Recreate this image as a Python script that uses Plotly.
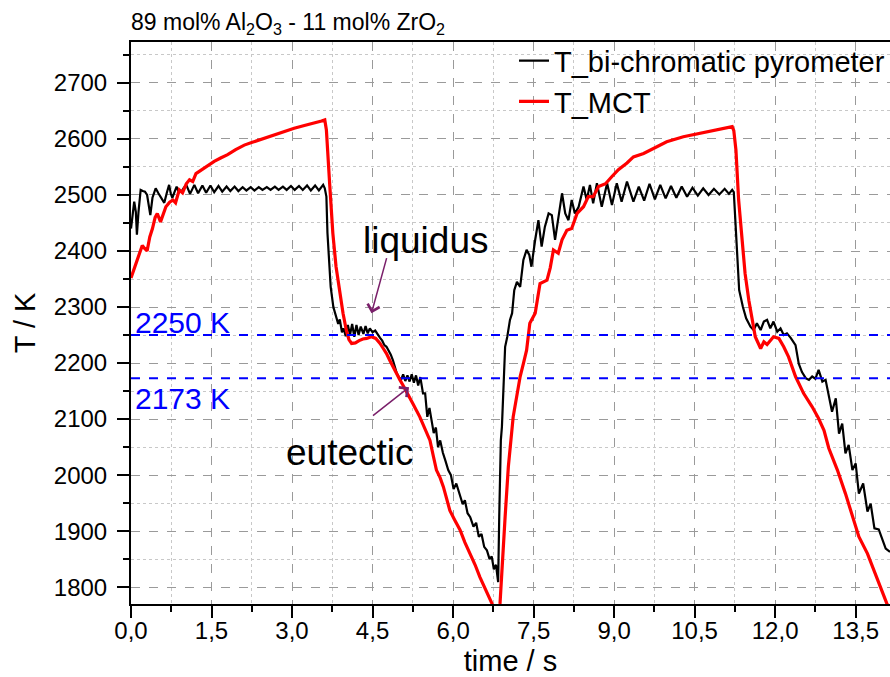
import plotly.graph_objects as go

# --- data ---
t_pyro = [0.00, 0.03, 0.06, 0.09, 0.11, 0.14, 0.18, 0.22, 0.26, 0.30, 0.33, 0.36, 0.40, 0.46, 0.51,
          0.56, 0.62, 0.67, 0.71, 0.74, 0.77, 0.81, 0.85, 0.89, 0.94, 0.98,
          1.03, 1.10, 1.18, 1.25, 1.33, 1.40, 1.48, 1.55, 1.63, 1.70, 1.78, 1.85, 1.93, 2.00,
          2.08, 2.15, 2.23, 2.30, 2.38, 2.45, 2.53, 2.60, 2.68, 2.75, 2.83, 2.90, 2.98, 3.05,
          3.13, 3.20, 3.28, 3.35, 3.43, 3.50, 3.58, 3.61,
          3.64, 3.66, 3.69, 3.72, 3.77, 3.82, 3.86, 3.89, 3.93, 3.96, 4.00, 4.04, 4.08, 4.12,
          4.16, 4.20, 4.24, 4.28, 4.33, 4.37, 4.41, 4.45, 4.50, 4.55, 4.60, 4.64, 4.68, 4.72,
          4.76, 4.80, 4.84, 4.88, 4.92, 4.95, 4.99, 5.03, 5.07, 5.11, 5.15, 5.19, 5.23, 5.27,
          5.31, 5.35, 5.39, 5.44, 5.48, 5.52, 5.56, 5.60, 5.64, 5.68, 5.72, 5.76, 5.81, 5.86,
          5.91, 5.96, 6.01, 6.06, 6.13, 6.18, 6.22, 6.27, 6.32, 6.38, 6.43, 6.48, 6.53, 6.58,
          6.63, 6.68, 6.72, 6.76, 6.80, 6.84,
          6.86, 6.89, 6.91, 6.95, 6.97, 7.01, 7.06, 7.10, 7.14, 7.19, 7.25, 7.31, 7.37, 7.42,
          7.46, 7.53, 7.59, 7.65, 7.71, 7.78, 7.84, 7.90, 7.96, 8.03, 8.09, 8.15, 8.21, 8.27,
          8.34, 8.43, 8.49, 8.55, 8.61, 8.68, 8.77, 8.87, 8.96, 9.05, 9.14, 9.24, 9.36, 9.46,
          9.56, 9.66, 9.76, 9.86, 9.96, 10.06, 10.16, 10.26, 10.36, 10.46, 10.56, 10.66, 10.76,
          10.86, 10.96, 11.06, 11.14, 11.20,
          11.23, 11.25, 11.27, 11.30, 11.33, 11.40, 11.46, 11.54, 11.60, 11.66, 11.73, 11.79,
          11.85, 11.91, 11.97, 12.04, 12.10, 12.16, 12.22, 12.29, 12.38, 12.44, 12.50, 12.57,
          12.63, 12.69, 12.75, 12.81, 12.88, 12.94, 13.00, 13.06, 13.13, 13.19, 13.25, 13.31,
          13.37, 13.44, 13.50, 13.56, 13.64, 13.72, 13.78, 13.85, 13.93, 14.00, 14.06, 14.14]
T_pyro = [2440, 2461, 2488, 2470, 2429, 2470, 2509, 2507, 2506, 2500, 2480, 2464, 2495, 2512, 2503,
          2495, 2486, 2505, 2518, 2503, 2495, 2505, 2515, 2505, 2506, 2512,
          2518, 2502, 2518, 2503, 2517, 2504, 2517, 2505, 2516, 2506, 2515, 2507, 2515, 2507,
          2514, 2508, 2514, 2508, 2514, 2509, 2514, 2509, 2515, 2509, 2515, 2509, 2516, 2509,
          2516, 2509, 2517, 2508, 2517, 2508, 2518, 2512,
          2497, 2432, 2372, 2336, 2300, 2283, 2270, 2278, 2255, 2262, 2248, 2268, 2250, 2270,
          2247, 2268, 2250, 2265, 2252, 2266, 2253, 2262, 2255, 2258, 2250, 2245, 2240, 2232,
          2229, 2222, 2215, 2205, 2190, 2182, 2175, 2170, 2180, 2168, 2178, 2167, 2180, 2165,
          2178, 2160, 2175, 2146, 2146, 2104, 2120, 2095, 2075, 2085, 2050, 2062, 2040, 2025,
          2009, 2000, 1975, 1985, 1961, 1948, 1955, 1932, 1925, 1908, 1915, 1890, 1895, 1872,
          1866, 1850, 1855, 1832, 1840, 1809,
          1926, 2062, 2086, 2164, 2229, 2247, 2277, 2289, 2330, 2345, 2336, 2384, 2402, 2393,
          2372, 2420, 2455, 2408, 2443, 2467, 2464, 2420, 2461, 2503, 2467, 2455, 2491, 2467,
          2479, 2515, 2491, 2518, 2485, 2521, 2479, 2521, 2482, 2521, 2488, 2524, 2488, 2515,
          2490, 2520, 2492, 2518, 2494, 2516, 2495, 2515, 2497, 2513, 2499, 2512, 2500,
          2511, 2501, 2511, 2502, 2509,
          2505, 2470, 2420, 2361, 2330, 2300, 2280, 2265, 2259, 2271, 2259, 2274,
          2277, 2262, 2274, 2256, 2262, 2250, 2253, 2245, 2232, 2199, 2184, 2173,
          2170, 2176, 2172, 2188, 2167, 2170, 2140, 2113, 2137, 2074, 2092, 2039,
          2054, 2009, 2021, 1967, 1985, 1935, 1949, 1905, 1903, 1884, 1869, 1863]

t_mct = [0.00, 0.03, 0.08, 0.12, 0.17, 0.21, 0.25, 0.30, 0.35, 0.40, 0.45, 0.49, 0.55, 0.60, 0.65,
         0.72, 0.78, 0.83, 0.90, 0.96, 1.03, 1.09, 1.15, 1.21, 1.27, 1.35, 1.45, 1.55, 1.67,
         1.80, 1.95, 2.11, 2.26, 2.42, 2.58, 2.73, 2.89, 3.04, 3.23, 3.42, 3.55, 3.61,
         3.64, 3.70, 3.76, 3.82, 3.89, 3.95, 4.01, 4.06, 4.11, 4.18, 4.25, 4.32, 4.39, 4.48,
         4.56, 4.64, 4.70, 4.76, 4.82, 4.88, 4.95, 5.01, 5.07, 5.13, 5.25, 5.38, 5.48, 5.57,
         5.63, 5.69, 5.76, 5.82, 5.88, 5.94, 6.03, 6.13, 6.22, 6.32, 6.41, 6.50, 6.60, 6.69,
         6.74, 6.80, 6.86, 6.875, 6.97, 7.03, 7.12, 7.25, 7.31, 7.37, 7.43, 7.53, 7.62, 7.75,
         7.81, 7.87, 7.96, 8.03, 8.12, 8.21, 8.31, 8.43, 8.52, 8.61, 8.71, 8.84, 8.96, 9.08,
         9.24, 9.36, 9.55, 9.74, 9.98, 10.29, 10.61, 10.92, 11.20, 11.23,
         11.27, 11.32, 11.38, 11.44, 11.51, 11.57, 11.63, 11.73, 11.79, 11.85, 11.97, 12.07,
         12.16, 12.25, 12.38, 12.53, 12.69, 12.81, 12.91, 13.00, 13.16, 13.31, 13.47, 13.56,
         13.72, 13.84, 13.96, 14.08, 14.14]
T_mct = [2352, 2360, 2375, 2384, 2400, 2410, 2405, 2400, 2425, 2440, 2460, 2467, 2452, 2465, 2479,
         2487, 2491, 2486, 2509, 2504, 2520, 2527, 2524, 2538, 2542, 2546, 2553, 2560, 2566,
         2572, 2581, 2589, 2594, 2599, 2605, 2610, 2615, 2619, 2624, 2628, 2632, 2634,
         2616, 2521, 2432, 2372, 2324, 2289, 2259, 2242, 2235, 2236, 2240, 2243, 2244, 2247,
         2244, 2235, 2226, 2217, 2205, 2193, 2181, 2170, 2160, 2150, 2128, 2104, 2082, 2062,
         2035, 2009, 1995, 1979, 1958, 1937, 1920, 1902, 1880, 1860, 1840, 1818, 1797, 1777,
         1765, 1755, 1760, 1771, 1926, 2015, 2104, 2176, 2199, 2223, 2271, 2289, 2342, 2348,
         2370, 2402, 2396, 2420, 2437, 2440, 2467, 2479, 2497, 2497, 2515, 2520, 2533, 2545,
         2557, 2568, 2574, 2583, 2595, 2604, 2610, 2616, 2622, 2615,
         2580, 2491, 2420, 2360, 2312, 2277, 2247, 2226, 2238, 2233, 2247, 2244,
         2229, 2211, 2176, 2146, 2122, 2101, 2080, 2048, 2009, 1967, 1920, 1890,
         1860, 1830, 1801, 1771, 1760]

ref_levels = [2250, 2173]
ref_labels = ["2250 K", "2173 K"]

FONT = "Liberation Sans, Arial, sans-serif"
PURPLE = "#7a1f6a"

fig = go.Figure()
fig.add_trace(go.Scatter(x=t_pyro, y=T_pyro, mode="lines", name="T_bi-chromatic pyrometer",
                         line=dict(color="black", width=2.2)))
fig.add_trace(go.Scatter(x=t_mct, y=T_mct, mode="lines", name="T_MCT",
                         line=dict(color="#ff0000", width=3.2)))

for lvl in ref_levels:
    fig.add_hline(y=lvl, line=dict(color="#0000ff", width=2, dash="dash"))

# level labels
fig.add_annotation(x=0.04, y=2272, text=ref_labels[0], showarrow=False, xanchor="left",
                   font=dict(size=30, color="#0000ff"))
fig.add_annotation(x=0.04, y=2137, text=ref_labels[1], showarrow=False, xanchor="left",
                   font=dict(size=30, color="#0000ff"))

# liquidus / eutectic markers
fig.add_annotation(x=4.48, y=2289, ax=4.77, ay=2390, axref="x", ayref="y", text="",
                   showarrow=True, arrowhead=4, arrowsize=1.6, arrowwidth=1.5, arrowcolor=PURPLE)
fig.add_annotation(x=5.18, y=2157, ax=4.48, ay=2104, axref="x", ayref="y", text="",
                   showarrow=True, arrowhead=4, arrowsize=1.6, arrowwidth=1.5, arrowcolor=PURPLE)
fig.add_annotation(x=5.48, y=2418, text="liquidus", showarrow=False,
                   font=dict(size=37, color="black"))
fig.add_annotation(x=4.08, y=2040, text="eutectic", showarrow=False,
                   font=dict(size=37, color="black"))

fig.update_layout(
    width=890, height=677,
    margin=dict(l=131, r=0, t=42, b=73, autoexpand=False),
    plot_bgcolor="white", paper_bgcolor="white",
    font=dict(family=FONT, color="black"),
    separators=",.",
    title=dict(text="89 mol% Al<sub>2</sub>O<sub>3</sub> - 11 mol% ZrO<sub>2</sub>",
               x=131 / 890, xanchor="left", y=0.968, yanchor="middle",
               font=dict(size=23, color="black")),
    legend=dict(x=1.0, xanchor="right", y=1.012, yanchor="top", bgcolor="rgba(0,0,0,0)",
                font=dict(size=29), tracegroupgap=0),
    showlegend=True,
)

fig.update_xaxes(
    range=[0, 14.14], dtick=1.5, tick0=0, tickformat=".1f", automargin=False,
    ticks="outside", ticklen=12, tickwidth=2, tickcolor="black", ticklabelstandoff=-8,
    showline=True, linewidth=2, linecolor="black", mirror=True,
    showgrid=True, gridcolor="#9a9a9a", griddash="dash", gridwidth=1,
    zeroline=False, tickfont=dict(size=24),
    minor=dict(dtick=0.75, ticks="outside", ticklen=6, tickwidth=2, tickcolor="black",
               showgrid=True, gridcolor="#c8c8c8", griddash="dot"),
    title=dict(text="time / s", font=dict(size=29), standoff=13),
)
fig.update_yaxes(
    range=[1770, 2773], dtick=100, tick0=1800, automargin=False,
    ticks="outside", ticklen=12, tickwidth=2, tickcolor="black", ticklabelstandoff=5,
    showline=True, linewidth=2, linecolor="black",
    showgrid=True, gridcolor="#9a9a9a", griddash="dash", gridwidth=1,
    zeroline=False, tickfont=dict(size=24),
    minor=dict(dtick=50, ticks="outside", ticklen=6, tickwidth=2, tickcolor="black",
               showgrid=True, gridcolor="#c8c8c8", griddash="dot"),
    title=dict(text="T / K", font=dict(size=29), standoff=10),
)

# page body has a default 8px margin; drop it so the figure sits at the window origin
fig.write_html("out.html", config={"displayModeBar": False},
               post_script="document.body.style.margin='0';")
